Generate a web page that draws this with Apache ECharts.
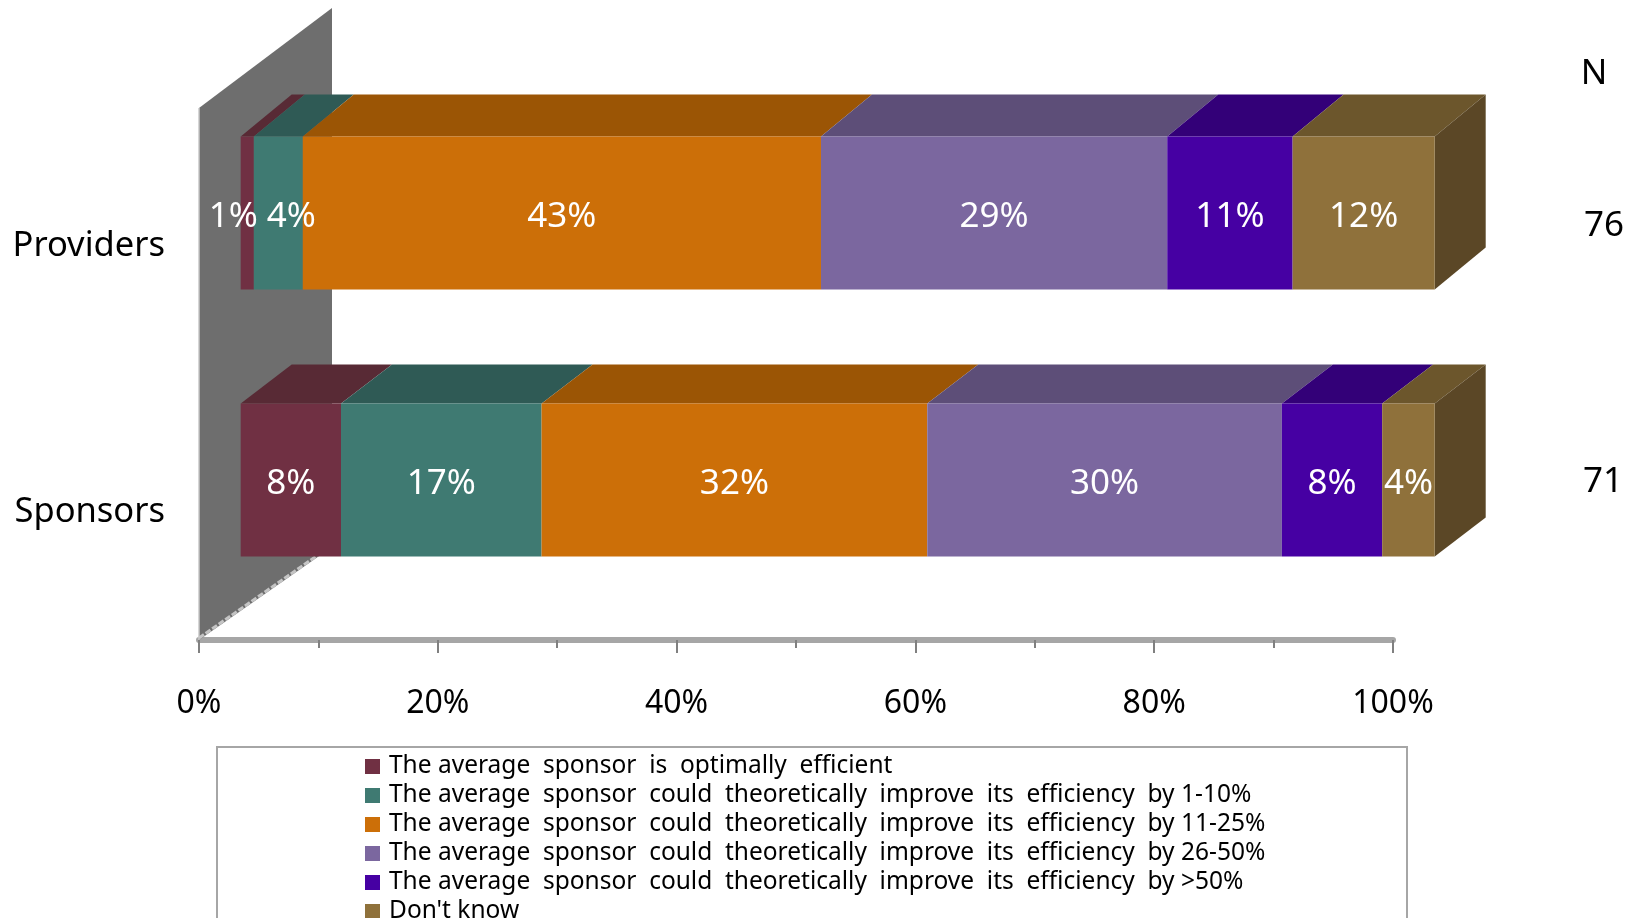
<!DOCTYPE html>
<html><head><meta charset="utf-8">
<style>html,body{margin:0;padding:0;background:#fff;overflow:hidden}#c{width:1637px;height:918px}</style>
<script src="https://cdn.jsdelivr.net/npm/echarts@6/dist/echarts.min.js"></script>
</head><body><div id="c"></div>
<script>
const categories = ['Providers', 'Sponsors'];
const seriesNames = [
  'The average  sponsor  is  optimally  efficient',
  'The average  sponsor  could  theoretically  improve  its  efficiency  by 1-10%',
  'The average  sponsor  could  theoretically  improve  its  efficiency  by 11-25%',
  'The average  sponsor  could  theoretically  improve  its  efficiency  by 26-50%',
  'The average  sponsor  could  theoretically  improve  its  efficiency  by >50%',
  "Don't know"
];
const optimal = [1.1, 8.4];
const improve1to10 = [4.1, 16.8];
const improve11to25 = [43.4, 32.3];
const improve26to50 = [29.0, 29.7];
const improveOver50 = [10.5, 8.4];
const dontKnow = [11.9, 4.4];
const nValues = ['76', '71'];
const seriesValues = [optimal, improve1to10, improve11to25, improve26to50, improveOver50, dontKnow];
const frontColors = ['#703043', '#3f7a72', '#cc6f08', '#7b679f', '#4600a3', '#8f713b'];
const topColors = ['#582a35', '#2f5a55', '#9b5505', '#5d4e78', '#330078', '#6c562c'];
const sideColor = '#5b4726';
const font = '"Noto Sans"';
const depthX = 51, depthY = [42, 39], barH = 153;

const faces = [];
categories.forEach((c, ci) => {
  let s = 0;
  seriesValues.forEach((v, si) => { faces.push([s, s + v[ci], ci, si]); s += v[ci]; });
});
const labelShift = { '0,0': -14, '0,1': 13 };

const chart = echarts.init(document.getElementById('c'), null, { renderer: 'canvas' });
chart.setOption({
  animation: false,
  grid: [
    { left: 199, width: 1194, top: 108, height: 532 },
    { left: 240.7, width: 1194, top: 79.5, height: 534 }
  ],
  xAxis: [
    { gridIndex: 0, type: 'value', min: 0, max: 100, interval: 20,
      axisLine: { show: true, lineStyle: { color: '#a6a6a6', width: 6 } },
      axisTick: { show: true, length: 13, lineStyle: { color: '#808080', width: 2 } },
      minorTick: { show: true, splitNumber: 2, length: 8, lineStyle: { color: '#808080', width: 2 } },
      splitLine: { show: false },
      axisLabel: { formatter: '{value}%', margin: 48, fontFamily: font, fontSize: 32, color: '#000' } },
    { gridIndex: 1, type: 'value', min: 0, max: 100, show: false }
  ],
  yAxis: [
    { gridIndex: 0, type: 'category', inverse: true, data: categories,
      axisLine: { show: false }, axisTick: { show: false },
      axisLabel: { margin: 34, fontFamily: font, fontSize: 34.5, color: '#000', verticalAlign: 'top', lineHeight: 11 } },
    { gridIndex: 1, type: 'category', inverse: true, data: categories, show: false }
  ],
  legend: {
    left: 365, top: 754, height: 300, orient: 'vertical', padding: 0, itemGap: 4,
    itemWidth: 15, itemHeight: 15, icon: 'rect', selectedMode: false,
    data: seriesNames,
    textStyle: { fontFamily: font, fontSize: 24.5, color: '#000', padding: [0, 0, 0, 4] }
  },
  graphic: [
    { type: 'rect', z: 0, shape: { x: 217, y: 747, width: 1190, height: 200 },
      style: { fill: 'none', stroke: '#a6a6a6', lineWidth: 2 } },
    { type: 'text', x: 1594, y: 74, style: { text: 'N', font: '35px ' + font, fill: '#000', align: 'center', verticalAlign: 'middle' } },
    { type: 'text', x: 1604, y: 226, style: { text: nValues[0], font: '35px ' + font, fill: '#000', align: 'center', verticalAlign: 'middle' } },
    { type: 'text', x: 1603, y: 482, style: { text: nValues[1], font: '35px ' + font, fill: '#000', align: 'center', verticalAlign: 'middle' } }
  ],
  series: [
    { type: 'custom', name: 'wall', xAxisIndex: 0, yAxisIndex: 0, z: 1, silent: true, data: [[0]],
      clip: false,
      renderItem(params, api) {
        const gx = api.coord([0, 0])[0];
        const half = api.size([0, 1])[1];
        const top = api.coord([0, 0])[1] - half / 2;
        const bottom = api.coord([0, 1])[1] + half / 2;
        return { type: 'group', children: [
          { type: 'polygon', shape: { points: [[gx, top], [gx + 133, top - 100], [gx + 133, bottom - 93], [gx, bottom]] },
            style: { fill: '#6e6e6e' } },
          { type: 'line', shape: { x1: gx, y1: bottom - 2, x2: gx + 119, y2: bottom - 85 },
            style: { stroke: '#c4c4c4', lineWidth: 3, lineDash: [6, 2] } },
          { type: 'line', shape: { x1: gx, y1: top, x2: gx, y2: bottom },
            style: { stroke: '#c8c8c8', lineWidth: 1.5 } }
        ] };
      } },
    { type: 'custom', name: 'faces', xAxisIndex: 1, yAxisIndex: 1, z: 2, silent: true, data: faces,
      clip: false,
      renderItem(params, api) {
        const s = api.value(0), e = api.value(1), ci = api.value(2), si = api.value(3);
        const a = api.coord([s, ci]), b = api.coord([e, ci]);
        const dy = depthY[ci], yT = a[1] - barH / 2, yB = a[1] + barH / 2;
        const children = [{ type: 'polygon',
          shape: { points: [[a[0], yT], [b[0], yT], [b[0] + depthX, yT - dy], [a[0] + depthX, yT - dy]] },
          style: { fill: topColors[si] } }];
        if (si === seriesValues.length - 1) children.push({ type: 'polygon',
          shape: { points: [[b[0], yT], [b[0] + depthX, yT - dy], [b[0] + depthX, yB - dy], [b[0], yB]] },
          style: { fill: sideColor } });
        return { type: 'group', children };
      } }
  ].concat(seriesNames.map((name, si) => ({
    type: 'bar', name, stack: 'total', xAxisIndex: 1, yAxisIndex: 1, z: 3, barWidth: barH,
    itemStyle: { color: frontColors[si] },
    data: seriesValues[si].map((v, ci) => ({ value: v })),
    label: { show: true, position: 'inside', fontFamily: font, fontSize: 35, color: '#fff',
      formatter: p => Math.round(p.value) + '%' },
    labelLayout: p => ({ dx: labelShift[p.dataIndex + ',' + (p.seriesIndex - 2)] || 0, dy: 4, hideOverlap: false })
  })))
});
</script></body></html>
